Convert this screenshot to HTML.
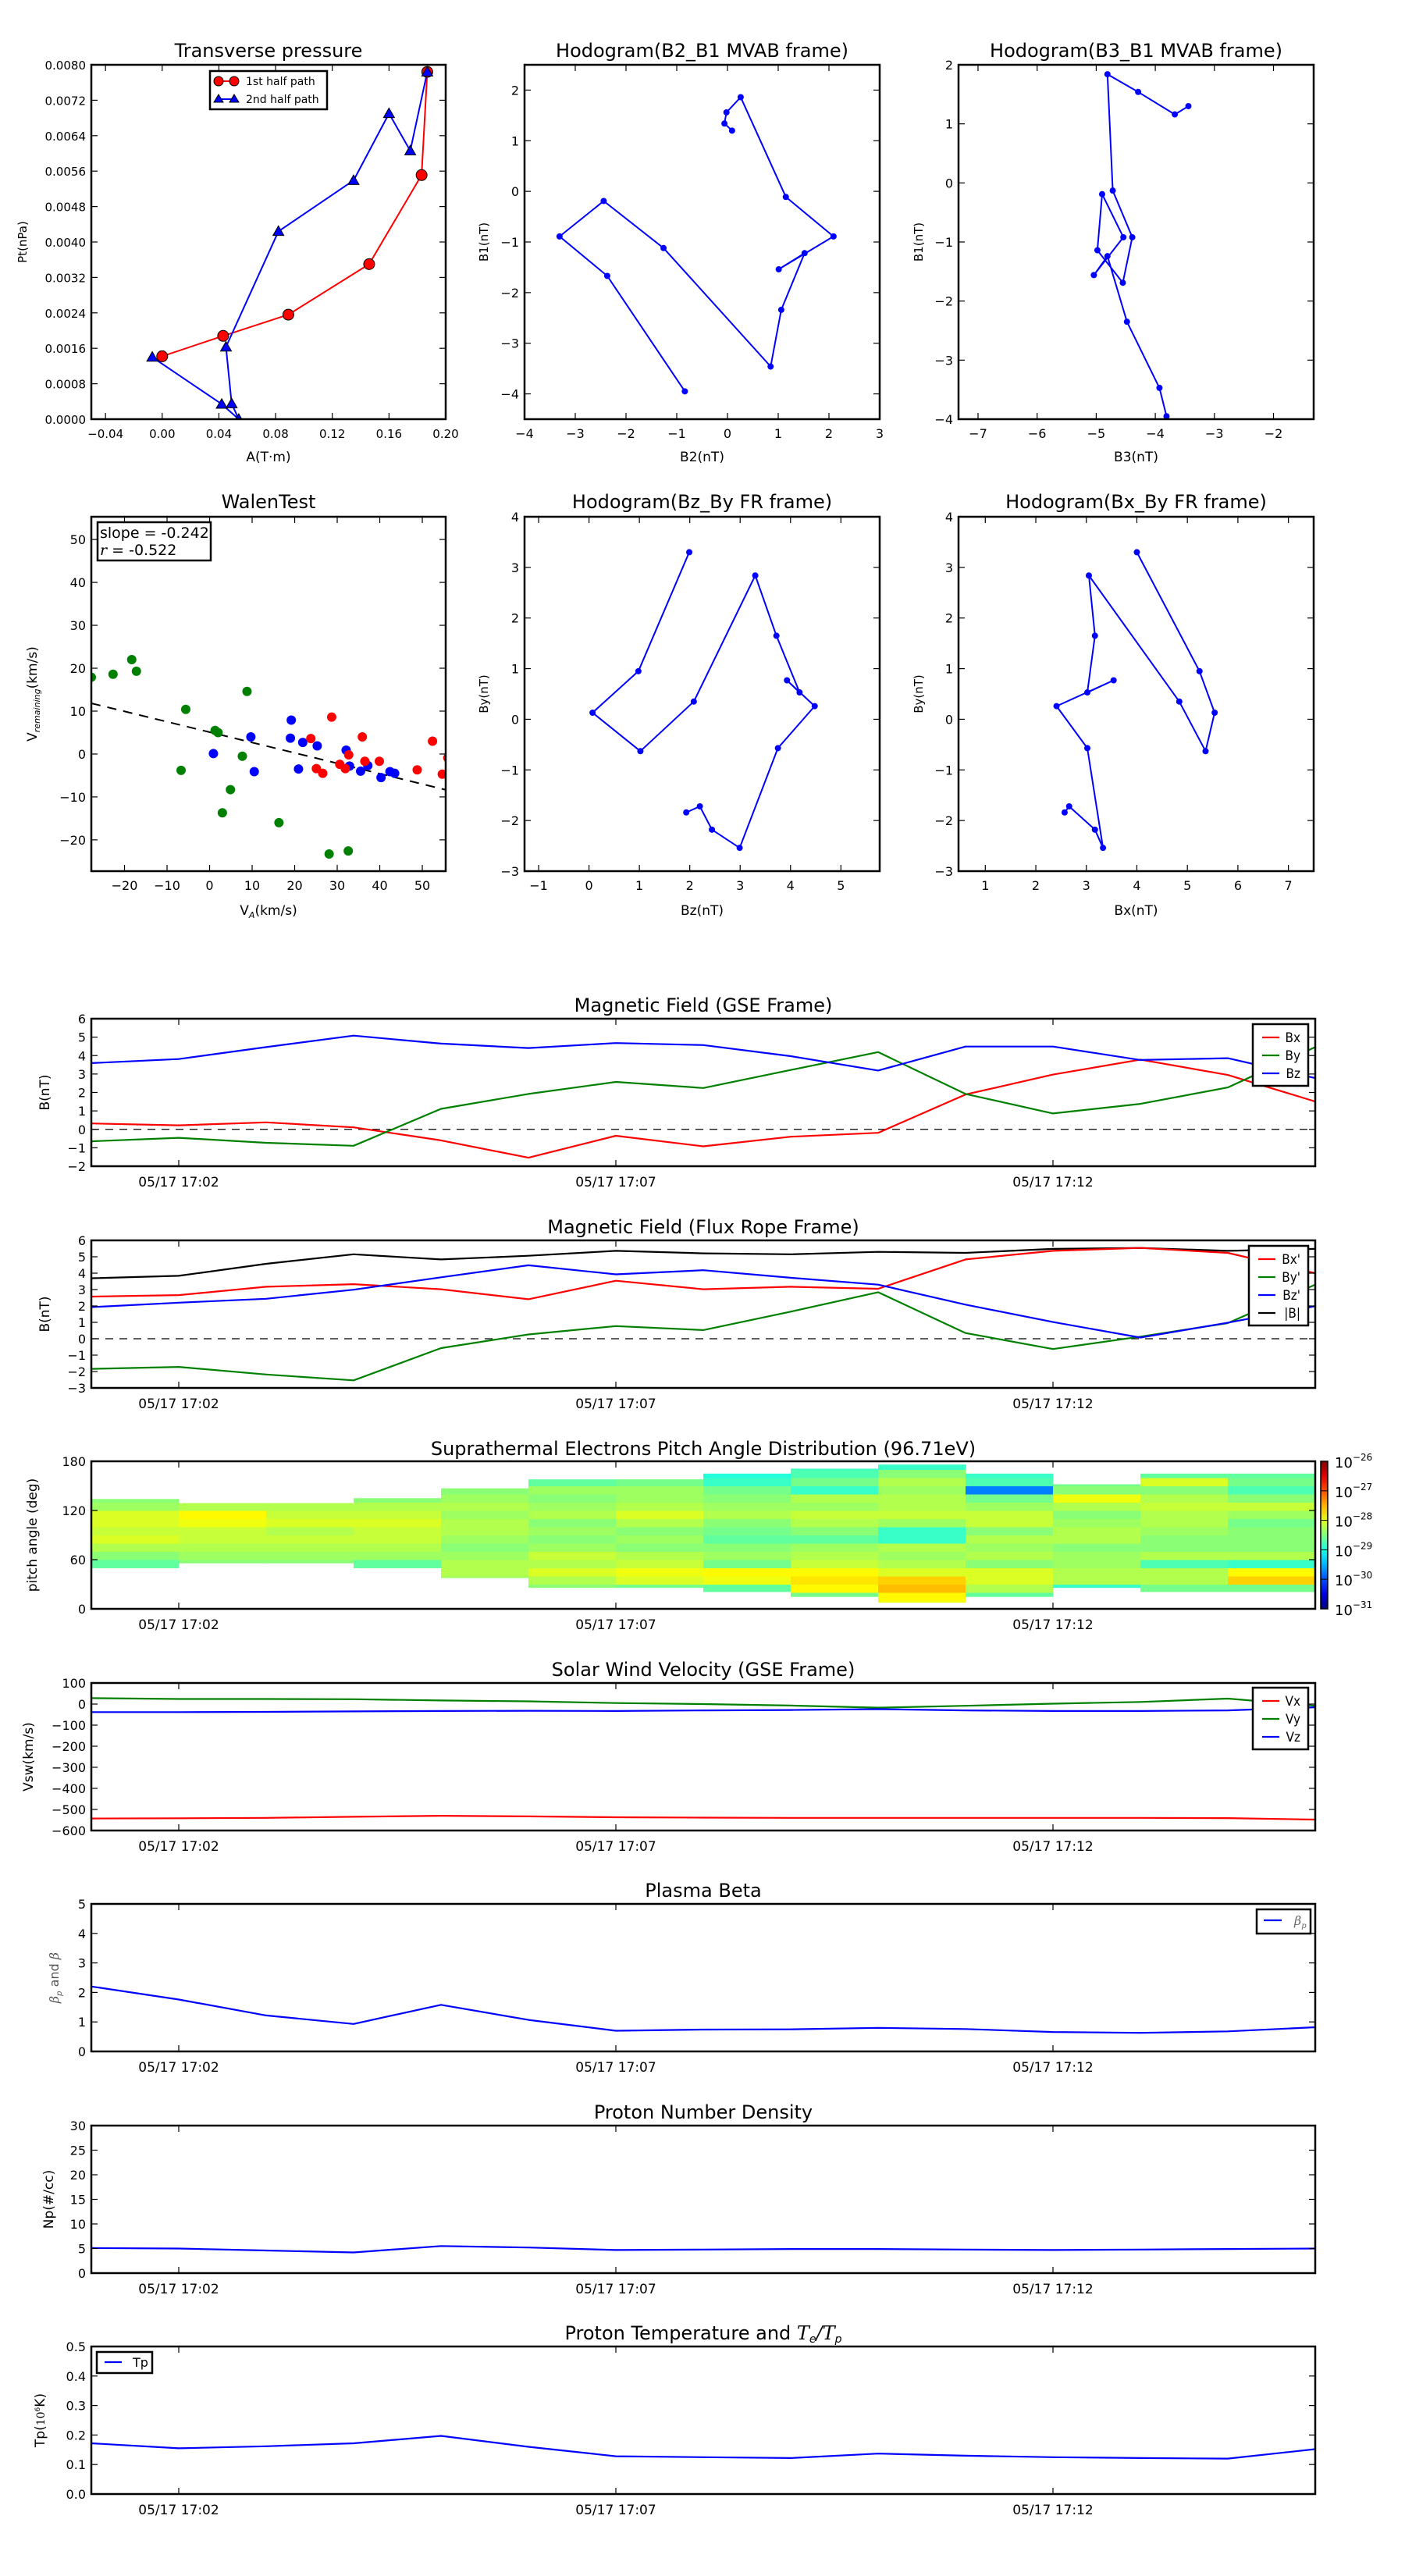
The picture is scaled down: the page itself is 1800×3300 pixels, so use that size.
<!DOCTYPE html>
<html><head><meta charset="utf-8"><style>
body{margin:0;background:#fff}
svg{display:block;font-family:"DejaVu Sans","Liberation Sans",sans-serif}
</style></head><body>
<svg id="fig" xmlns="http://www.w3.org/2000/svg" width="1800" height="3300" viewBox="0 0 1800 3300"></svg>
<script>
// ---------- DATA ----------
const minutes=[1,2,3,4,5,6,7,8,9,10,11,12,13,14,15];
const gseBx=[0.32,0.22,0.38,0.11,-0.6,-1.54,-0.35,-0.92,-0.4,-0.19,1.89,2.97,3.78,2.95,1.51];
const gseBy=[-0.65,-0.46,-0.73,-0.89,1.11,1.92,2.57,2.24,3.22,4.19,1.92,0.86,1.38,2.27,4.46];
const gseBz=[3.59,3.81,4.46,5.08,4.65,4.41,4.68,4.57,3.97,3.19,4.49,4.49,3.76,3.86,2.78];
const frBx=[2.57,2.66,3.17,3.33,3.02,2.41,3.54,3.02,3.17,3.05,4.84,5.36,5.54,5.24,4.0];
const frBy=[-1.84,-1.72,-2.18,-2.54,-0.57,0.26,0.77,0.53,1.65,2.84,0.35,-0.63,0.13,0.95,3.3];
const frBz=[1.93,2.20,2.44,2.99,3.75,4.48,3.93,4.18,3.72,3.30,2.08,1.02,0.07,0.98,1.99];
const frBt=[3.69,3.84,4.57,5.15,4.84,5.06,5.36,5.21,5.15,5.30,5.24,5.48,5.54,5.36,5.48];
const vx=[-543,-542,-540,-535,-530,-533,-537,-539,-540,-540,-540,-540,-540,-541,-548];
const vy=[28,24,24,23,17,13,5,0,-7,-17,-8,2,10,26,-8];
const vz=[-38,-38,-37,-35,-33,-32,-33,-30,-28,-24,-30,-33,-33,-30,-15];
const beta=[2.2,1.76,1.22,0.93,1.58,1.07,0.7,0.74,0.75,0.8,0.76,0.66,0.63,0.68,0.82];
const np=[5.1,5.0,4.6,4.2,5.5,5.2,4.7,4.8,4.9,4.9,4.8,4.7,4.8,4.9,5.0];
const tp=[0.172,0.155,0.162,0.172,0.197,0.16,0.128,0.125,0.122,0.137,0.13,0.125,0.122,0.12,0.152];
// transverse pressure
const ptA1=[0.000,0.043,0.089,0.146,0.183,0.187];
const ptP1=[0.00142,0.00188,0.00236,0.00350,0.00551,0.00784];
const ptA2=[0.187,0.175,0.160,0.135,0.082,0.045,0.049,0.054,0.042,-0.007];
const ptP2=[0.00784,0.00606,0.0069,0.00539,0.00424,0.00163,0.00035,0.0,0.00034,0.0014];
// MVAB hodograms
const mvB1=[-3.95,-1.67,-0.89,-0.19,-1.12,-3.46,-2.34,-1.22,-1.54,-0.89,-0.11,1.86,1.56,1.34,1.20];
const mvB2=[-0.84,-2.37,-3.31,-2.44,-1.26,0.85,1.06,1.52,1.01,2.09,1.15,0.26,-0.02,-0.06,0.09];
const mv3B1=[-3.95,-3.47,-2.35,-1.24,-1.56,-0.92,-0.19,-1.14,-1.69,-0.92,-0.13,1.84,1.54,1.16,1.30];
const mv3B3=[-3.81,-3.93,-4.48,-4.81,-5.04,-4.54,-4.90,-4.98,-4.55,-4.39,-4.72,-4.81,-4.29,-3.67,-3.44];
// Walen test
const walGx=[-27.8,-22.7,-18.3,-17.2,-5.6,-6.7,1.3,2.0,7.7,8.8,4.9,3.0,16.3,28.1,32.6];
const walGy=[17.9,18.6,22.0,19.3,10.4,-3.8,5.5,5.0,-0.5,14.6,-8.3,-13.7,-16.0,-23.3,-22.6];
const walBx=[0.9,9.7,10.5,19.2,19.0,20.9,21.9,25.3,32.1,32.9,35.5,37.2,40.3,42.4,43.5];
const walBy=[0.1,4.0,-4.1,7.9,3.7,-3.5,2.7,1.9,0.9,-2.8,-4.0,-2.7,-5.5,-4.1,-4.5];
const walRx=[23.8,25.1,26.6,28.7,30.6,31.9,32.7,35.9,36.5,39.9,48.8,52.4,54.7,56];
const walRy=[3.6,-3.4,-4.5,8.6,-2.4,-3.4,-0.2,4.0,-1.7,-1.7,-3.7,3.0,-4.7,-0.9];
const walSlope=-0.242, walIntercept=5.1;
// PAD (log10 values, 10-degree bins from 0 to 180), columns per minute 17:01..17:14
const padLo=[50,56,56,50,38,26,26,21,15,8,15,26,21,21];
const padHi=[134,129,129,135,147,158,158,165,171,176,165,152,165,165];
const n=null;
const padVals=[
[n,n,n,n,n,-28.4,-28.2,-28.0,-27.8,-27.9,-27.8,-27.8,-28.1,-28.2,n,n,n,n],
[n,n,n,n,n,-28.2,-28.1,-28.0,-27.9,-27.9,-27.7,-27.6,-28.0,n,n,n,n,n],
[n,n,n,n,n,-28.2,-28.1,-28.0,-27.9,-28.0,-27.8,-27.9,-28.0,n,n,n,n,n],
[n,n,n,n,n,-28.4,-28.1,-28.0,-27.9,-27.9,-27.8,-27.9,-28.0,-28.2,n,n,n,n],
[n,n,n,-28.1,-28.0,-28.0,-28.1,-28.2,-28.1,-28.0,-28.0,-28.1,-28.0,-28.1,-28.2,n,n,n],
[n,n,-28.2,-28.0,-27.8,-28.0,-27.9,-28.1,-28.2,-28.1,-28.2,-28.0,-28.1,-28.2,-28.1,-28.4,n,n],
[n,n,-28.3,-27.8,-27.7,-27.9,-28.0,-28.2,-28.1,-28.2,-28.0,-27.8,-28.0,-28.1,-28.1,-28.3,n,n],
[n,n,-28.4,-27.7,-27.6,-28.3,-28.1,-28.2,-28.4,-28.3,-28.2,-28.0,-28.1,-28.2,-28.3,-28.6,-28.7,n],
[n,-28.3,-27.6,-27.5,-27.6,-27.9,-28.0,-28.1,-28.4,-28.2,-28.0,-27.9,-28.1,-28.0,-28.6,-28.3,-28.5,-28.6],
[-27.7,-27.6,-27.3,-27.4,-27.8,-28.0,-28.1,-28.0,-28.6,-28.6,-28.1,-27.9,-28.0,-28.0,-28.1,-28.0,-28.2,-28.6],
[n,-28.4,-28.0,-27.8,-27.8,-28.2,-28.0,-28.1,-28.0,-28.2,-27.9,-27.9,-28.1,-28.3,-29.5,-28.5,-28.6,n],
[n,n,-28.6,-28.0,-28.0,-28.1,-28.1,-28.2,-28.0,-28.0,-28.1,-28.2,-28.0,-27.7,-28.2,-28.3,n,n],
[n,n,-28.3,-28.0,-28.0,-28.5,-28.0,-28.2,-28.2,-28.1,-28.0,-28.0,-27.9,-28.0,-28.2,-27.8,-28.4,n],
[n,n,-28.3,-27.4,-27.6,-28.6,-28.0,-28.2,-28.2,-28.2,-28.3,-28.1,-27.9,-28.2,-28.5,-28.3,-28.4,n]];
const timeTickMin=[2,7,12];
const timeTickLabels=["05/17 17:02","05/17 17:07","05/17 17:12"];

// ---------- HELPERS ----------
const NS="http://www.w3.org/2000/svg";
const svg=document.getElementById('fig');
function mk(tag,attrs,parent,txt){const e=document.createElementNS(NS,tag);for(const k in attrs)e.setAttribute(k,attrs[k]);if(txt!==undefined)e.textContent=txt;(parent||svg).appendChild(e);return e;}
function fmtMinus(s){return String(s).replace('-','\u2212');}
function makeAxes(name,x0,y0,w,h,xmin,xmax,ymin,ymax){
  const g=mk('g',{});
  
  
  const sx=v=>x0+(v-xmin)/(xmax-xmin)*w;
  const sy=v=>y0+h-(v-ymin)/(ymax-ymin)*h;
  const clipId='c'+name;
  const cp=mk('clipPath',{id:clipId},g);mk('rect',{x:x0,y:y0,width:w,height:h},cp);
  const plot=mk('g',{'clip-path':'url(#'+clipId+')'},g);
  return {g,plot,sx,sy,x0,y0,w,h};
}
function frame(ax){const r=mk('rect',{x:ax.x0,y:ax.y0,width:ax.w,height:ax.h,fill:'none',stroke:'#000','stroke-width':2.5},ax.g);}
function yTicks(ax,vals,labels,fs){
  vals.forEach((v,i)=>{const y=ax.sy(v);
    mk('line',{x1:ax.x0,x2:ax.x0+8,y1:y,y2:y,stroke:'#000','stroke-width':1.2},ax.g);
    mk('line',{x1:ax.x0+ax.w,x2:ax.x0+ax.w-8,y1:y,y2:y,stroke:'#000','stroke-width':1.2},ax.g);
    const t=mk('text',{x:ax.x0-7,y:y+6,'font-size':fs||16,'text-anchor':'end'},ax.g,fmtMinus(labels[i]));
    });
}
function xTicks(ax,vals,labels,fs,dy){
  vals.forEach((v,i)=>{const x=ax.sx(v);
    mk('line',{x1:x,x2:x,y1:ax.y0+ax.h,y2:ax.y0+ax.h-8,stroke:'#000','stroke-width':1.2},ax.g);
    mk('line',{x1:x,x2:x,y1:ax.y0,y2:ax.y0+8,stroke:'#000','stroke-width':1.2},ax.g);
    const t=mk('text',{x:x,y:ax.y0+ax.h+(dy||24),'font-size':fs||16,'text-anchor':'middle'},ax.g,fmtMinus(labels[i]));
    });
}
function title(ax,txt,y){const t=mk('text',{x:ax.x0+ax.w/2,y:y,'font-size':24,'text-anchor':'middle'},ax.g,txt);return t;}
function ylabel(ax,txt,x,fs,fill){const cy=ax.y0+ax.h/2;const t=mk('text',{x:x,y:cy,'font-size':fs||17,'text-anchor':'middle',transform:'rotate(-90 '+x+' '+cy+')',fill:fill||'#000'},ax.g,txt);return t;}
function xlabel(ax,txt,y){const t=mk('text',{x:ax.x0+ax.w/2,y:y,'font-size':17,'text-anchor':'middle'},ax.g,txt);return t;}
function line(ax,xs,ys,color,name,w){const pts=xs.map((x,i)=>ax.sx(x).toFixed(1)+','+ax.sy(ys[i]).toFixed(1)).join(' ');const p=mk('polyline',{points:pts,fill:'none',stroke:color,'stroke-width':w||2.2,'stroke-linejoin':'round'},ax.plot);return p;}
function dots(ax,xs,ys,color,r,name,edge){xs.forEach((x,i)=>{const c=mk('circle',{cx:ax.sx(x),cy:ax.sy(ys[i]),r:r,fill:color,stroke:edge?'#000':'none','stroke-width':1},ax.plot);});}
function tris(ax,xs,ys,color,s,name){xs.forEach((x,i)=>{const cx=ax.sx(x),cy=ax.sy(ys[i]);const p=mk('polygon',{points:`${cx},${cy-s} ${cx-s},${cy+s*0.75} ${cx+s},${cy+s*0.75}`,fill:color,stroke:'#000','stroke-width':1},ax.plot);});}
function zeroLine(ax,xmin,xmax){mk('line',{x1:ax.sx(xmin),x2:ax.sx(xmax),y1:ax.sy(0),y2:ax.sy(0),stroke:'#000','stroke-width':1.3,'stroke-dasharray':'10,8'},ax.plot);}
function legend(ax,x,y,w,entries,fs){const g=mk('g',{},ax.g);const rh=23;mk('rect',{x:x,y:y,width:w,height:entries.length*rh+10,fill:'#fff',stroke:'#000','stroke-width':2.5},g);
  entries.forEach((e,i)=>{const yy=y+17+i*rh;const eg=mk('g',{},g);mk('line',{x1:x+12,x2:x+34,y1:yy,y2:yy,stroke:e[1],'stroke-width':2.2},eg);const t=mk('text',{x:x+w-10,y:yy+6,'font-size':fs||17,'text-anchor':'end','font-family':'"DejaVu Sans Condensed","DejaVu Sans",sans-serif'},eg,e[0]);});return g;}

// ---------- TOP ROW ----------
const R1=[83,537], R2=[662,1116];
const COLS=[[117,571],[672,1127],[1228,1683]];
function topAxes(name,c,r,xr,yr){return makeAxes(name,COLS[c][0],r[0],COLS[c][1]-COLS[c][0],r[1]-r[0],xr[0],xr[1],yr[0],yr[1]);}

// Transverse pressure
(function(){const ax=topAxes('transverse-pressure',0,R1,[-0.05,0.20],[0,0.008]);
  line(ax,ptA1,ptP1,'#f00','first-half-path-line',2);line(ax,ptA2,ptP2,'#00f','second-half-path-line',2);
  dots(ax,ptA1,ptP1,'#f00',7,'first-half-point',true);tris(ax,ptA2,ptP2,'#00f',7,'second-half-point');
  frame(ax);
  const yv=[0,0.0008,0.0016,0.0024,0.0032,0.0040,0.0048,0.0056,0.0064,0.0072,0.0080];
  yTicks(ax,yv,yv.map(v=>v.toFixed(4)),15);
  const xv=[-0.04,0,0.04,0.08,0.12,0.16,0.20];xTicks(ax,xv,xv.map(v=>v.toFixed(2)),15);
  title(ax,'Transverse pressure',73);ylabel(ax,'Pt(nPa)',34,15);xlabel(ax,'A(T·m)',591);
  const lg=mk('g',{},ax.g);
  mk('rect',{x:269,y:91,width:150,height:49,fill:'#fff',stroke:'#000','stroke-width':2.5},lg);
  mk('line',{x1:280,x2:300,y1:104,y2:104,stroke:'#f00','stroke-width':2},lg);
  mk('circle',{cx:280,cy:104,r:6,fill:'#f00',stroke:'#000'},lg);mk('circle',{cx:300,cy:104,r:6,fill:'#f00',stroke:'#000'},lg);
  mk('text',{x:315,y:109,'font-size':14},lg,'1st half path');
  mk('line',{x1:280,x2:300,y1:127,y2:127,stroke:'#00f','stroke-width':2},lg);
  mk('polygon',{points:'280,121 274,131 286,131',fill:'#00f',stroke:'#000'},lg);mk('polygon',{points:'300,121 294,131 306,131',fill:'#00f',stroke:'#000'},lg);
  mk('text',{x:315,y:132,'font-size':14},lg,'2nd half path');
})();
// B2_B1
(function(){const ax=topAxes('hodogram-b2-b1',1,R1,[-4,3],[-4.5,2.5]);
  line(ax,mvB2,mvB1,'#00f','hodogram-path',2);dots(ax,mvB2,mvB1,'#00f',4,'hodogram-point');frame(ax);
  const yv=[-4,-3,-2,-1,0,1,2];yTicks(ax,yv,yv);const xv=[-4,-3,-2,-1,0,1,2,3];xTicks(ax,xv,xv);
  title(ax,'Hodogram(B2_B1 MVAB frame)',73);ylabel(ax,'B1(nT)',625,15);xlabel(ax,'B2(nT)',591);})();
// B3_B1
(function(){const ax=topAxes('hodogram-b3-b1',2,R1,[-7.33,-1.32],[-4,2]);
  line(ax,mv3B3,mv3B1,'#00f','hodogram-path',2);dots(ax,mv3B3,mv3B1,'#00f',4,'hodogram-point');frame(ax);
  const yv=[-4,-3,-2,-1,0,1,2];yTicks(ax,yv,yv);const xv=[-7,-6,-5,-4,-3,-2];xTicks(ax,xv,xv);
  title(ax,'Hodogram(B3_B1 MVAB frame)',73);ylabel(ax,'B1(nT)',1182,15);xlabel(ax,'B3(nT)',591);})();
// Walen
(function(){const ax=topAxes('walen-test',0,R2,[-27.8,55.5],[-27.3,55.3]);
  const lx=[-27.8,55.5];mk('line',{x1:ax.sx(lx[0]),y1:ax.sy(walSlope*lx[0]+walIntercept),x2:ax.sx(lx[1]),y2:ax.sy(walSlope*lx[1]+walIntercept),stroke:'#000','stroke-width':2,'stroke-dasharray':'12,9'},ax.plot);
  dots(ax,walGx,walGy,'#008000',6,'walen-point-green');dots(ax,walBx,walBy,'#00f',6,'walen-point-blue');dots(ax,walRx,walRy,'#f00',6,'walen-point-red');
  frame(ax);
  const yv=[-20,-10,0,10,20,30,40,50];yTicks(ax,yv,yv);const xv=[-20,-10,0,10,20,30,40,50];xTicks(ax,xv,xv);
  title(ax,'WalenTest',651);
  const yl=ylabel(ax,'',47,17);yl.textContent='V';const ts=mk('tspan',{'font-size':11,'font-style':'italic',dy:4},yl,'remaining');mk('tspan',{dy:-4},yl,'(km/s)');
  const xl=xlabel(ax,'',1172);xl.textContent='V';mk('tspan',{'font-size':11,'font-style':'italic',dy:4},xl,'A');mk('tspan',{dy:-4},xl,'(km/s)');
  const bg=mk('g',{},ax.g);
  mk('rect',{x:125,y:669,width:145,height:49,fill:'#fff',stroke:'#000','stroke-width':2.5},bg);
  mk('text',{x:128,y:689,'font-size':19},bg,'slope = -0.242');
  const t=mk('text',{x:128,y:711,'font-size':19},bg,'');mk('tspan',{'font-style':'italic','font-family':'"DejaVu Serif",serif'},t,'r');mk('tspan',{},t,' = -0.522');
})();
// Bz_By
(function(){const ax=topAxes('hodogram-bz-by',1,R2,[-1.28,5.77],[-3,4]);
  line(ax,frBz,frBy,'#00f','hodogram-path',2);dots(ax,frBz,frBy,'#00f',4,'hodogram-point');frame(ax);
  const yv=[-3,-2,-1,0,1,2,3,4];yTicks(ax,yv,yv);const xv=[-1,0,1,2,3,4,5];xTicks(ax,xv,xv);
  title(ax,'Hodogram(Bz_By FR frame)',651);ylabel(ax,'By(nT)',625,15);xlabel(ax,'Bz(nT)',1172);})();
// Bx_By
(function(){const ax=topAxes('hodogram-bx-by',2,R2,[0.47,7.5],[-3,4]);
  line(ax,frBx,frBy,'#00f','hodogram-path',2);dots(ax,frBx,frBy,'#00f',4,'hodogram-point');frame(ax);
  const yv=[-3,-2,-1,0,1,2,3,4];yTicks(ax,yv,yv);const xv=[1,2,3,4,5,6,7];xTicks(ax,xv,xv);
  title(ax,'Hodogram(Bx_By FR frame)',651);ylabel(ax,'By(nT)',1182,15);xlabel(ax,'Bx(nT)',1172);})();

// ---------- TIME SERIES ----------
const TX0=117,TX1=1685,PH=189;
function tAxes(name,top,ymin,ymax){return makeAxes(name,TX0,top,TX1-TX0,PH,1,15,ymin,ymax);}
function tFinish(ax,yv,ylab){frame(ax);yTicks(ax,yv,ylab||yv);xTicks(ax,timeTickMin,timeTickLabels,17,26);}

(function(){const ax=tAxes('magnetic-field-gse',1305,-2,6);zeroLine(ax,1,15);
  line(ax,minutes,gseBx,'#f00','series-bx');line(ax,minutes,gseBy,'#008000','series-by');line(ax,minutes,gseBz,'#00f','series-bz');
  tFinish(ax,[-2,-1,0,1,2,3,4,5,6]);title(ax,'Magnetic Field (GSE Frame)',1296);ylabel(ax,'B(nT)',63);
  legend(ax,1605,1312,71,[['Bx','#f00'],['By','#008000'],['Bz','#00f']]);})();
(function(){const ax=tAxes('magnetic-field-flux-rope',1589,-3,6);zeroLine(ax,1,15);
  line(ax,minutes,frBt,'#000','series-btotal');line(ax,minutes,frBx,'#f00','series-bx-prime');line(ax,minutes,frBy,'#008000','series-by-prime');line(ax,minutes,frBz,'#00f','series-bz-prime');
  tFinish(ax,[-3,-2,-1,0,1,2,3,4,5,6]);title(ax,'Magnetic Field (Flux Rope Frame)',1580);ylabel(ax,'B(nT)',63);
  legend(ax,1600,1596,76,[["Bx'",'#f00'],["By'",'#008000'],["Bz'",'#00f'],['|B|','#000']]);})();
function jet(t){t=Math.max(0,Math.min(1,t));const c=v=>Math.round(255*Math.max(0,Math.min(1,v)));return `rgb(${c(1.5-Math.abs(4*t-3))},${c(1.5-Math.abs(4*t-2))},${c(1.5-Math.abs(4*t-1))})`;}
(function(){const ax=tAxes('pitch-angle-distribution',1872,0,180);
  padVals.forEach((col,ci)=>{col.forEach((v,bi)=>{if(v===null)return;const a0=Math.max(bi*10,padLo[ci]),a1=Math.min(bi*10+10,padHi[ci]);if(a1<=a0)return;
    const r=mk('rect',{x:ax.sx(minutes[ci]),y:ax.sy(a1),width:ax.sx(minutes[ci+1])-ax.sx(minutes[ci])+0.5,height:ax.sy(a0)-ax.sy(a1)+0.5,fill:jet((v+31)/5-0.05)},ax.plot);
    });});
  tFinish(ax,[0,60,120,180]);title(ax,'Suprathermal Electrons Pitch Angle Distribution (96.71eV)',1864);ylabel(ax,'pitch angle (deg)',47,17);
  const cb=mk('g',{},ax.g);
  const grad=mk('linearGradient',{id:'jetg',x1:0,y1:1,x2:0,y2:0},cb);for(let i=0;i<=10;i++)mk('stop',{offset:i/10,'stop-color':jet(i/10)},grad);
  mk('rect',{x:1692,y:1872,width:9,height:189,fill:'url(#jetg)',stroke:'#000','stroke-width':1.5},cb);
  [-31,-30,-29,-28,-27,-26].forEach((e,i)=>{const y=2061-i*189/5;mk('line',{x1:1692,x2:1701,y1:y,y2:y,stroke:'#000'},cb);const t=mk('text',{x:1710,y:y+8,'font-size':18},cb,'10');mk('tspan',{'font-size':12,dy:-9},t,'\u2212'+Math.abs(e));});
})();
(function(){const ax=tAxes('solar-wind-velocity',2156,-600,100);
  line(ax,minutes,vx,'#f00','series-vx');line(ax,minutes,vy,'#008000','series-vy');line(ax,minutes,vz,'#00f','series-vz');
  tFinish(ax,[-600,-500,-400,-300,-200,-100,0,100]);title(ax,'Solar Wind Velocity (GSE Frame)',2147);ylabel(ax,'Vsw(km/s)',42);
  legend(ax,1605,2162,71,[['Vx','#f00'],['Vy','#008000'],['Vz','#00f']]);})();
(function(){const ax=tAxes('plasma-beta',2439,0,5);
  line(ax,minutes,beta,'#00f','series-beta-p');
  tFinish(ax,[0,1,2,3,4,5]);title(ax,'Plasma Beta',2430);
  const yl=ylabel(ax,'',75,16,'#555');mk('tspan',{'font-style':'italic','font-family':'"DejaVu Serif",serif'},yl,'β');mk('tspan',{'font-size':10,dy:4,'font-style':'italic'},yl,'p');mk('tspan',{dy:-4},yl,' and ');mk('tspan',{'font-style':'italic','font-family':'"DejaVu Serif",serif'},yl,'β');
  const g=mk('g',{},ax.g);
  mk('rect',{x:1610,y:2446,width:69,height:31,fill:'#fff',stroke:'#000','stroke-width':2.5},g);mk('line',{x1:1619,x2:1642,y1:2460,y2:2460,stroke:'#00f','stroke-width':2.2},g);
  const t=mk('text',{x:1658,y:2466,'font-size':16,fill:'#666','font-style':'italic','font-family':'"DejaVu Serif",serif'},g,'β');mk('tspan',{'font-size':10,dy:4},t,'p');})();
(function(){const ax=tAxes('proton-number-density',2723,0,30);
  line(ax,minutes,np,'#00f','series-np');
  tFinish(ax,[0,5,10,15,20,25,30]);title(ax,'Proton Number Density',2714);ylabel(ax,'Np(#/cc)',68);})();
(function(){const ax=tAxes('proton-temperature',3006,0,0.5);
  line(ax,minutes,tp,'#00f','series-tp');
  tFinish(ax,[0,0.1,0.2,0.3,0.4,0.5],['0.0','0.1','0.2','0.3','0.4','0.5']);
  const tt=title(ax,'Proton Temperature and ',2997);mk('tspan',{'font-style':'italic','font-family':'"DejaVu Serif",serif'},tt,'T');mk('tspan',{'font-size':14,dy:4,'font-style':'italic'},tt,'e');mk('tspan',{dy:-4,'font-style':'italic','font-family':'"DejaVu Serif",serif'},tt,'/T');mk('tspan',{'font-size':14,dy:4,'font-style':'italic'},tt,'p');
  const yl=ylabel(ax,'Tp(',57,17);mk('tspan',{'font-family':'"DejaVu Serif",serif','font-size':14},yl,'10');mk('tspan',{'font-size':9,dy:-6},yl,'6');mk('tspan',{dy:6},yl,'K)');
  const g=mk('g',{},ax.g);
  mk('rect',{x:124,y:3013,width:71,height:27,fill:'#fff',stroke:'#000','stroke-width':2.5},g);mk('line',{x1:134,x2:156,y1:3026,y2:3026,stroke:'#00f','stroke-width':2.2},g);mk('text',{x:170,y:3032,'font-size':16},g,'Tp');})();
</script>
</body></html>
